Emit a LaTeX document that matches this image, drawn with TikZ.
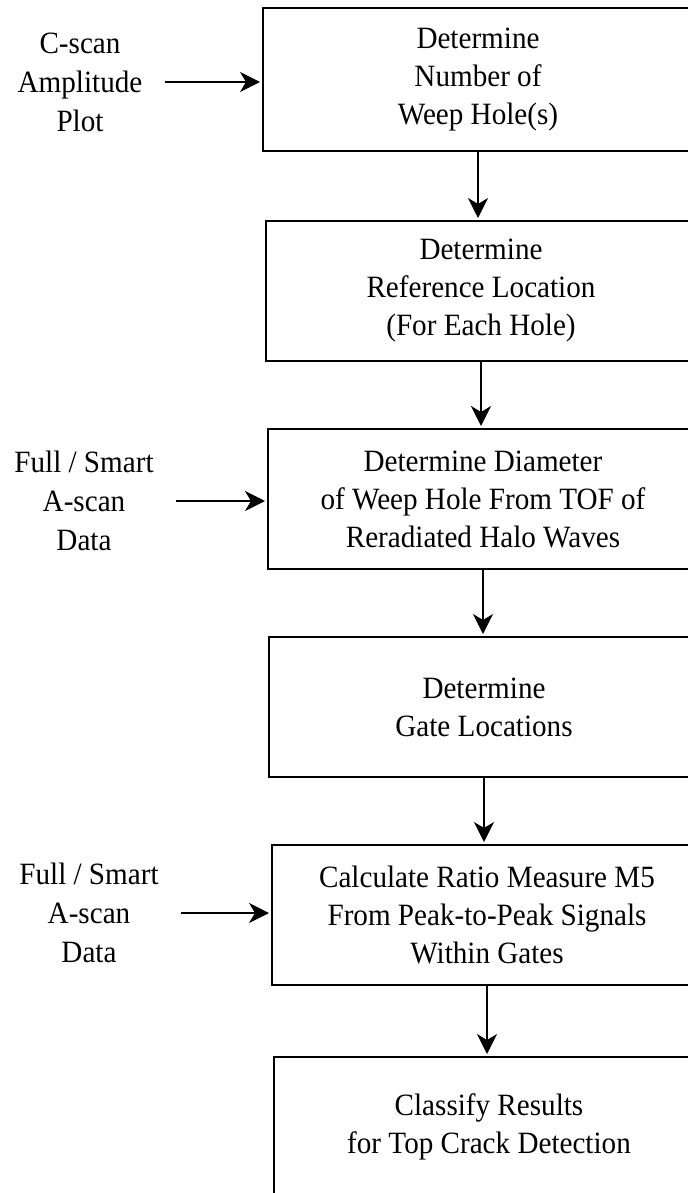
\documentclass[tikz,border=0pt]{standalone}
\usepackage{fontspec}
\setmainfont[FakeStretch=0.94]{Liberation Serif}
\usetikzlibrary{arrows.meta,positioning}
\tikzset{
stepbox/.style={
  rectangle,
  line width=1pt,
  minimum width=215pt,
  minimum height=70pt,
  inner sep=0pt,
  align=center,
  draw=black,
  font=\fontsize{15.5}{19}\selectfont,
  }
}
\tikzset{
inlabel/.style={
  align=center,
  inner sep=0pt,
  font=\fontsize{15.5}{19.5}\selectfont,
  }
}
\tikzset{
myline/.style={
  line width=0.9pt,
  -{Stealth[length=10pt,width=10pt,inset=3pt]},
  shorten >=1pt
  }
}

\begin{document}
\begin{tikzpicture}[x=0.5pt,y=-0.5pt]
    \clip (0,0) rectangle (688,1193);

    % process boxes
    \node[stepbox, minimum height=71.5pt] (det_num) at (478,79.5) {Determine\\Number of\\Weep Hole(s)};
    \node[stepbox] (det_ref) at (481,291) {Determine\\Reference Location\\(For Each Hole)};
    \node[stepbox] (det_dia) at (483,499) {Determine Diameter\\of Weep Hole From TOF of\\Reradiated Halo Waves};
    \node[stepbox] (det_gate) at (484,707) {Determine\\Gate Locations};
    \node[stepbox] (calc_ratio) at (487,915) {Calculate Ratio Measure M5\\From Peak-to-Peak Signals\\Within Gates};
    \node[stepbox] (classify) at (489,1127) {Classify Results\\for Top Crack Detection};

    % input part
    \node[inlabel] (cscan_in) at (80,82) {C-scan\\Amplitude\\Plot};
    \node[inlabel] (ascan_in) at (84,501) {Full / Smart\\A-scan\\Data};
    \node[inlabel] (ascan_in2) at (89,913) {Full / Smart\\A-scan\\Data};

    % input edges
    \draw[myline, shorten <=11pt] (cscan_in.east) -- (cscan_in.east -| det_num.west);
    \draw[myline, shorten <=11pt] (ascan_in.east) -- (ascan_in.east -| det_dia.west);
    \draw[myline, shorten <=11pt] (ascan_in2.east) -- (ascan_in2.east -| calc_ratio.west);

    % flow edges
    \draw[myline] (det_num.south) -- (det_num.south |- det_ref.north);
    \draw[myline] (det_ref.south) -- (det_ref.south |- det_dia.north);
    \draw[myline] (det_dia.south) -- (det_dia.south |- det_gate.north);
    \draw[myline] (det_gate.south) -- (det_gate.south |- calc_ratio.north);
    \draw[myline] (calc_ratio.south) -- (calc_ratio.south |- classify.north);
\end{tikzpicture}
\end{document}
